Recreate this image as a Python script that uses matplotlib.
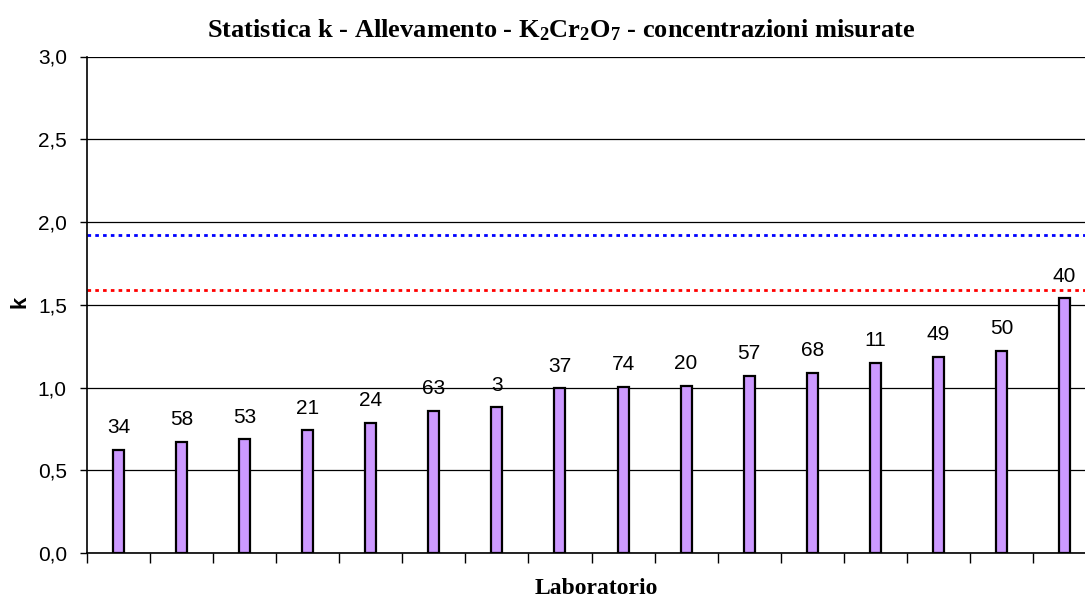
import numpy as np
import matplotlib
matplotlib.use("Agg")
import matplotlib.pyplot as plt

# data
labs = ["34", "58", "53", "21", "24", "63", "3", "37", "74", "20", "57", "68", "11", "49", "50", "40"]
k_vals = [0.625, 0.673, 0.687, 0.741, 0.785, 0.860, 0.880, 0.994, 1.004, 1.012,
          1.070, 1.090, 1.149, 1.185, 1.223, 1.538]
k_crit_5 = 1.59
k_crit_1 = 1.92
y_ticks = [0.0, 0.5, 1.0, 1.5, 2.0, 2.5, 3.0]

plt.rcParams['font.family'] = ['Liberation Sans', 'DejaVu Sans']
plt.rcParams['mathtext.fontset'] = 'custom'
plt.rcParams['mathtext.rm'] = 'Liberation Serif:bold'
plt.rcParams['mathtext.bf'] = 'Liberation Serif:bold'
plt.rcParams['mathtext.default'] = 'bf'

W, H = 1085, 599
fig = plt.figure(figsize=(W / 100, H / 100), dpi=100)
ax = fig.add_axes([87 / W, 1 - 553 / H, 1009 / W, (553 - 56.5) / H])

x = np.arange(len(labs))
ax.set_axisbelow(True)
ax.bar(x, k_vals, width=0.175, color='#CC99FF', edgecolor='black', linewidth=1.6, zorder=3)

for xi, v, lab in zip(x, k_vals, labs):
    ax.annotate(lab, (xi, v), xytext=(0, 12), textcoords='offset points',
                ha='center', va='baseline', fontsize=15, zorder=4)

ax.axhline(k_crit_5, color='#FF0000', linewidth=2, linestyle=(0, (1.3, 1.5)), zorder=2)
ax.axhline(k_crit_1, color='#0000FF', linewidth=2, linestyle=(0, (1.3, 1.5)), zorder=2)

ax.set_xlim(-0.5, len(labs) - 0.5)
ax.set_ylim(0, 3)
ax.set_yticks(y_ticks)
ax.set_yticklabels([f"{t:.1f}".replace('.', ',') for t in y_ticks], fontsize=15)
ax.set_xticks(np.arange(len(labs) + 1) - 0.5)
ax.set_xticklabels([])
ax.tick_params(axis='x', length=7, width=1, direction='out')
ax.tick_params(axis='y', length=5, width=1, direction='out', pad=9.5)
ax.grid(axis='y', color='black', linewidth=0.9)
ax.grid(axis='x', visible=False)

for s in ['top', 'right']:
    ax.spines[s].set_visible(False)
ax.spines['left'].set_linewidth(1.2)
ax.spines['bottom'].set_linewidth(1.2)

fig.text(561 / W, 1 - 30 / H,
         r'Statistica k - Allevamento - K$_2$Cr$_2$O$_7$ - concentrazioni misurate',
         ha='center', va='center', fontsize=19, fontweight='bold', family='Liberation Serif')
fig.text(596 / W, 1 - 588 / H, 'Laboratorio', ha='center', va='center',
         fontsize=17, fontweight='bold', family='Liberation Serif')
fig.text(20 / W, 1 - 302 / H, 'k', ha='center', va='center', rotation=90,
         fontsize=16, fontweight='bold')

fig.savefig('out.png', dpi=100)
